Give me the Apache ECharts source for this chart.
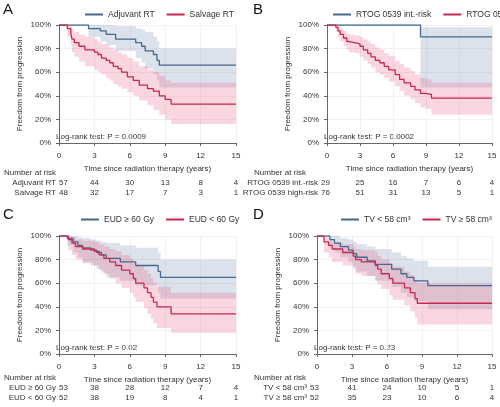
<!DOCTYPE html>
<html><head><meta charset="utf-8">
<script src="https://cdn.jsdelivr.net/npm/echarts@6/dist/echarts.min.js"></script>
<style>html,body{margin:0;padding:0;background:#fff}#c{width:500px;height:407px}</style>
</head><body><div id="c"></div>
<script>
// each row: [time, estimate, lower CI, upper CI] (%)
const A_adj = [[0,100,100,100],[2.5,97,90,100],[3.5,95,86,100],[4,92,83,100],[4.8,88,78,99],[6.5,85,72,97],[7,82,68,96],[7.3,78,63,94],[8,75,58,90],[8.3,70,53,86],[8.5,66,47,80],[15,66,47,80]];
const A_sal = [[0,100,100,100],[0.7,97,90,100],[1,93,83,99],[1.1,88,77,96],[1.3,85,73,94],[1.7,82,69,92],[2.2,79,65,90],[3,77,62,88],[3.3,75,60,86],[3.6,72,58,84],[4,70,55,83],[4.3,68,53,81],[4.6,65,50,79],[5,63,48,77],[5.3,60,46,75],[5.8,56,43,72],[6.3,53,40,69],[6.8,49,36,65],[7.5,46,32,62],[8,44,28,60],[8.5,40,24,57],[9,37,20,53],[9.5,33,16,51],[15,33,16,51]];
const B_int = [[0,100,100,100],[8.5,90,47,98],[15,90,47,98]];
const B_high = [[0,100,100,100],[0.8,98,94,100],[1,95,90,99],[1.2,92,86,97],[1.5,89,82,95],[1.8,86,79,93],[2,85,77,92],[2.5,84,76,91],[3,82,73,90],[3.3,79,70,88],[3.7,76,67,86],[4,73,64,84],[4.4,70,60,81],[4.8,68,58,79],[5.2,65,55,76],[5.6,62,52,74],[6.2,58,48,70],[6.6,54,44,67],[7,51,40,64],[7.6,48,37,61],[8,45,34,58],[8.5,42,30,55],[9,41,29,54],[9.5,38,24,51],[15,38,24,51]];
const C_hi = [[0,100,100,100],[0.7,98,92,100],[1.2,95,86,100],[1.6,92,82,99],[2,90,78,98],[2.7,88,75,97],[3.2,86,72,96],[3.6,84,69,95],[4,81,65,94],[5.2,78,62,92],[6.5,75,58,90],[8.4,70,52,86],[8.6,65,47,80],[15,65,47,80]];
const C_lo = [[0,100,100,100],[0.8,97,88,100],[1.1,94,84,99],[1.4,91,80,97],[2,89,77,96],[3,87,75,95],[3.4,84,71,93],[3.8,81,68,91],[4.3,78,64,89],[4.8,75,60,87],[5.3,71,56,84],[6,68,52,81],[6.3,64,48,78],[6.5,60,44,75],[7.2,56,39,71],[7.5,52,34,68],[7.8,48,30,64],[8,44,26,60],[8.3,40,22,57],[9.5,34,18,52],[15,34,18,52]];
const D_small = [[0,100,100,100],[1.1,97,90,100],[1.5,94,86,100],[2,91,82,98],[2.7,88,78,97],[3.1,85,74,95],[3.4,82,70,93],[4.3,79,66,91],[5,76,62,89],[6.4,72,57,86],[7.2,68,52,83],[7.7,65,48,81],[8.3,62,45,79],[9.5,58,38,74],[15,58,38,74]];
const D_large = [[0,100,100,100],[0.6,95,86,99],[1,92,82,97],[1.3,89,78,95],[2.2,86,75,93],[3.1,83,72,91],[3.3,80,68,89],[3.8,78,66,88],[5,75,62,86],[5.2,72,59,83],[5.5,68,55,80],[6.2,64,50,77],[6.5,60,46,74],[7.5,56,41,70],[8,52,36,67],[8.4,47,31,63],[8.6,43,25,60],[15,43,25,60]];

const xTicks = [0,3,6,9,12,15];
const panels = [
  {letter:'A', names:['Adjuvant RT','Salvage RT'], curves:[A_adj,A_sal], risk:[[57,44,30,13,8,4],[48,32,17,7,3,1]], p:'Log-rank test: P = 0.0009'},
  {letter:'B', names:['RTOG 0539 int.-risk','RTOG 0539 high-risk'], curves:[B_int,B_high], risk:[[29,25,16,7,6,4],[76,51,31,13,5,1]], p:'Log-rank test: P = 0.0002'},
  {letter:'C', names:['EUD ≥ 60 Gy','EUD < 60 Gy'], curves:[C_hi,C_lo], risk:[[53,38,28,12,7,4],[52,38,19,8,4,1]], p:'Log-rank test: P = 0.02'},
  {letter:'D', names:['TV < 58 cm³','TV ≥ 58 cm³'], curves:[D_small,D_large], risk:[[53,41,24,10,5,1],[52,35,23,10,6,4]], p:'Log-rank test: P = 0.23'}
];
const geo = [
  {left:59,top:25,width:177,height:118,ox:0,oy:0,lblX:56,lg:80},
  {left:327,top:25,width:165,height:118,ox:250,oy:0,lblX:318,lg:328},
  {left:59,top:236,width:177,height:118,ox:0,oy:205,lblX:56,lg:76},
  {left:317,top:236,width:175,height:118,ox:250,oy:205,lblX:307,lg:336}
];
const cols = ['#45698c','#c8284f'];
const bands = ['rgba(95,125,165,0.22)','rgba(232,70,115,0.22)'];
const F = 'Liberation Sans, Arial, sans-serif';

function bandRenderer(rows){
  return function(params, api){
    if (params.dataIndex !== 0) return null;
    const up=[], lo=[];
    for (let j=0;j<rows.length;j++){
      const r=rows[j];
      if (j>0){ const pr=rows[j-1]; up.push(api.coord([r[0],pr[3]])); lo.push(api.coord([r[0],pr[2]])); }
      up.push(api.coord([r[0],r[3]])); lo.push(api.coord([r[0],r[2]]));
    }
    const pts = up.concat(lo.reverse());
    return {type:'polygon',shape:{points:pts},style:{fill:api.visual('color')}};
  };
}

const chart = echarts.init(document.getElementById('c'));
const grids=[],xAxes=[],yAxes=[],series=[],legends=[],graphics=[];
panels.forEach((p,i)=>{
  const g=geo[i];
  grids.push({left:g.left,top:g.top,width:g.width,height:g.height,containLabel:false});
  xAxes.push({gridIndex:i,type:'value',min:0,max:15,interval:3,offset:5,
    axisLine:{show:true,lineStyle:{color:'#666'}},axisTick:{show:true,length:3,lineStyle:{color:'#666'}},
    axisLabel:{fontSize:8,color:'#333',fontFamily:F,margin:4},
    splitLine:{show:true,lineStyle:{color:'#eee',width:0.8}},
    name:'Time since radiation therapy (years)',nameLocation:'middle',nameGap:17,nameTextStyle:{fontSize:8,color:'#333',fontFamily:F}});
  yAxes.push({gridIndex:i,type:'value',min:0,max:100,interval:20,offset:5,
    axisLine:{show:true,lineStyle:{color:'#666'}},axisTick:{show:true,length:3,lineStyle:{color:'#666'}},
    axisLabel:{fontSize:8,color:'#333',fontFamily:F,margin:3,formatter:v=>v+'%'},
    splitLine:{show:true,lineStyle:{color:'#eee',width:0.8}},
    name:'Freedom from progression',nameLocation:'middle',nameGap:30,nameTextStyle:{fontSize:8,color:'#333',fontFamily:F}});
  p.curves.forEach((c,k)=>{
    series.push({type:'custom',xAxisIndex:i,yAxisIndex:i,silent:true,itemStyle:{color:bands[k]},
      renderItem:bandRenderer(c),encode:{x:0,y:3},data:c.map(r=>[r[0],r[1],r[2],r[3]]),z:1});
  });
  p.curves.forEach((c,k)=>{
    series.push({name:p.names[k],type:'line',step:'end',xAxisIndex:i,yAxisIndex:i,symbol:'none',z:3,
      lineStyle:{color:cols[k],width:1.3},itemStyle:{color:cols[k]},data:c.map(r=>[r[0],r[1]])});
  });
  legends.push({data:p.names,top:g.oy+5,left:g.lg,width:300,orient:'horizontal',
    textStyle:{fontSize:8.5,color:'#333',fontFamily:F},itemWidth:18,itemHeight:2,itemGap:12,icon:'rect'});
  graphics.push({type:'text',left:g.ox+3,top:g.oy+2,style:{text:p.letter,fontSize:15,fill:'#111',fontFamily:F}});
  graphics.push({type:'text',left:g.left-3,top:g.top+g.height-10,style:{text:p.p,fontSize:8,fill:'#333',fontFamily:F}});
});
chart.setOption({animation:false,grid:grids,xAxis:xAxes,yAxis:yAxes,series,legend:legends,graphic:graphics});
panels.forEach((p,i)=>{
  const g=geo[i];
  const base=g.oy+174;
  graphics.push({type:'text',left:g.ox+4,top:base-5,style:{text:'Number at risk',fontSize:8,fill:'#333',fontFamily:F}});
  p.risk.forEach((row,k)=>{
    const y=base+5+k*10;
    graphics.push({type:'text',x:g.lblX,y:y,style:{text:p.names[k],fontSize:8,fill:'#333',fontFamily:F,align:'right'}});
    row.forEach((v,j)=>{
      const px=chart.convertToPixel({xAxisIndex:i},xTicks[j]);
      const x = j===0? g.lblX+3 : px;
      graphics.push({type:'text',x:x,y:y,style:{text:String(v),fontSize:8,fill:'#333',fontFamily:F,align:j===0?'left':'center'}});
    });
  });
});
chart.setOption({graphic:graphics});
</script></body></html>
